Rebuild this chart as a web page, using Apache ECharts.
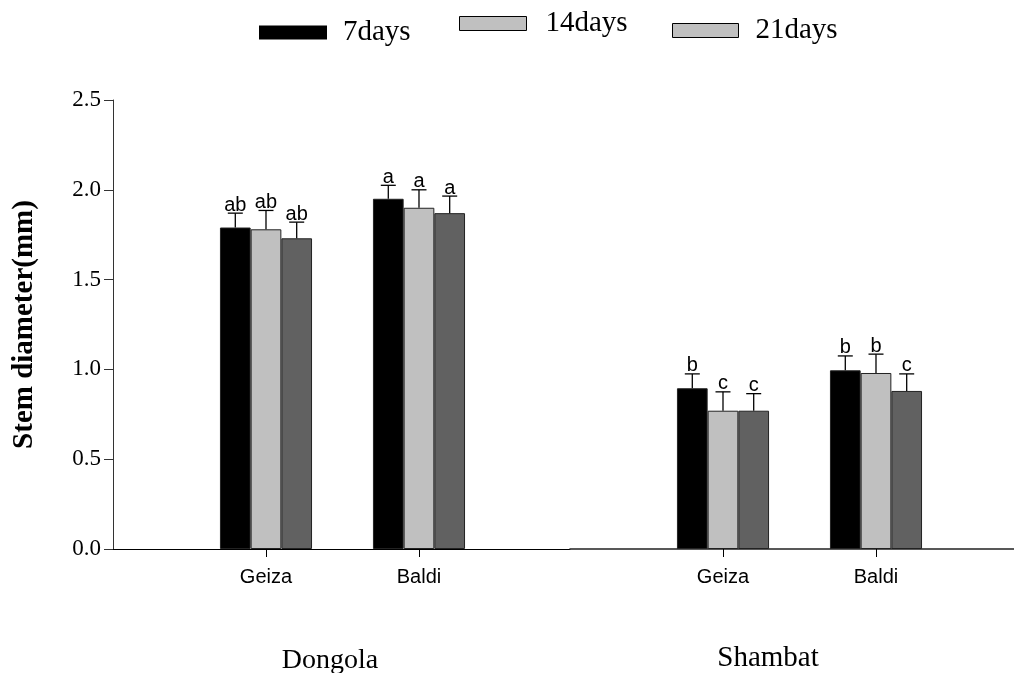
<!DOCTYPE html>
<html>
<head>
<meta charset="utf-8">
<script src="https://cdn.jsdelivr.net/npm/echarts@6/dist/echarts.min.js"></script>
<style>html,body{margin:0;padding:0;background:#fff}#c{width:1014px;height:673px}</style>
</head>
<body>
<div id="c"></div>
<script>
// ---- data ----
const sites = ['Dongola', 'Shambat'];
const cultivars = ['Geiza', 'Baldi'];
const seriesNames = ['7days', '14days', '21days'];
// order: Dongola-Geiza, Dongola-Baldi, Shambat-Geiza, Shambat-Baldi
const days7  = [1.79, 1.95, 0.895, 0.995];
const days14 = [1.78, 1.90, 0.77, 0.98];
const days21 = [1.73, 1.87, 0.77, 0.88];
const err7   = [0.08, 0.075, 0.08, 0.08];
const err14  = [0.105, 0.10, 0.105, 0.105];
const err21  = [0.09, 0.095, 0.095, 0.095];
const letters7  = ['ab', 'a', 'b', 'b'];
const letters14 = ['ab', 'a', 'c', 'b'];
const letters21 = ['ab', 'a', 'c', 'c'];
const yTicks = [0, 0.5, 1.0, 1.5, 2.0, 2.5];

// ---- styling ----
const BAR_W = 30.7;
const colors = ['#000000', '#c0c0c0', '#616161'];
const means = [days7, days14, days21];
const errs = [err7, err14, err21];
const letters = [letters7, letters14, letters21];
const serif = '"Liberation Serif", "Times New Roman", serif';
const sans = '"Liberation Sans", Arial, sans-serif';
// each panel's numeric x axis runs 0 .. X_MAX, cultivars sit at 1 and 2
const X_MAX = [2.987, 2.902];

const series = [];
sites.forEach(function (site, s) {
  seriesNames.forEach(function (nm, k) {
    series.push({
      type: 'bar', name: nm, xAxisIndex: s, yAxisIndex: s,
      barWidth: BAR_W, barGap: '0%',
      itemStyle: { color: colors[k], borderColor: '#222', borderWidth: 1 },
      data: cultivars.map(function (cv, c) { return [c + 1, means[k][s * 2 + c]]; }),
      z: 2
    });
  });
  const eData = [], eLab = [];
  cultivars.forEach(function (cv, c) {
    for (let k = 0; k < 3; k++) {
      eData.push([c + 1, k, means[k][s * 2 + c], errs[k][s * 2 + c]]);
      eLab.push(letters[k][s * 2 + c]);
    }
  });
  series.push({
    type: 'custom', name: 'err' + s, xAxisIndex: s, yAxisIndex: s, z: 5,
    encode: { x: 0, y: 2 }, clip: false,
    data: eData,
    renderItem: function (params, api) {
      const cat = api.value(0), k = api.value(1), v = api.value(2), e = api.value(3);
      const base = api.coord([cat, v]);
      const top = api.coord([cat, v + e]);
      const x = base[0] + (k - 1) * BAR_W;
      return {
        type: 'group', children: [
          { type: 'line', shape: { x1: x, y1: base[1], x2: x, y2: top[1] }, style: { stroke: '#000', lineWidth: 1.3 } },
          { type: 'line', shape: { x1: x - 7.5, y1: top[1], x2: x + 7.5, y2: top[1] }, style: { stroke: '#000', lineWidth: 1.3 } },
          { type: 'text', x: x, y: top[1] + 2, style: { text: eLab[params.dataIndex], font: '20px ' + sans, fill: '#000', align: 'center', verticalAlign: 'bottom' } }
        ]
      };
    }
  });
});

function xAxis(idx) {
  return {
    type: 'value', gridIndex: idx, min: 0, max: X_MAX[idx],
    axisLine: { show: true, onZero: false, lineStyle: { color: idx === 0 ? '#000' : '#222', width: idx === 0 ? 1 : 1.6 } },
    axisTick: { show: true, length: 8, lineStyle: { color: '#000' }, customValues: [1, 2] },
    axisLabel: { show: true, margin: 18, color: '#000', fontFamily: sans, fontSize: 20, customValues: [1, 2],
      formatter: function (v) { return cultivars[Math.round(v) - 1] || ''; } },
    splitLine: { show: false }
  };
}

const option = {
  animation: false,
  backgroundColor: '#fff',
  legend: [
    { data: [{ name: '7days', itemStyle: { color: '#000', borderWidth: 0 } }], left: 259, top: 18, padding: 0, icon: 'rect', itemWidth: 68, itemHeight: 14, textStyle: { fontFamily: serif, fontSize: 29, color: '#000', padding: [0, 0, 0, 11] } },
    { data: [{ name: '14days', itemStyle: { color: '#c0c0c0', borderColor: '#000', borderWidth: 1 } }], left: 459, top: 9, padding: 0, icon: 'rect', itemWidth: 67, itemHeight: 14, textStyle: { fontFamily: serif, fontSize: 29, color: '#000', padding: [0, 0, 0, 14] } },
    { data: [{ name: '21days', itemStyle: { color: '#c0c0c0', borderColor: '#000', borderWidth: 1 } }], left: 672, top: 16, padding: 0, icon: 'rect', itemWidth: 66, itemHeight: 14, textStyle: { fontFamily: serif, fontSize: 29, color: '#000', padding: [0, 0, 0, 12] } }
  ],
  grid: [
    { left: 113, width: 457, top: 100, height: 449 },
    { left: 570, right: 0, top: 100, height: 449 }
  ],
  xAxis: [xAxis(0), xAxis(1)],
  yAxis: [
    {
      type: 'value', gridIndex: 0, min: yTicks[0], max: yTicks[yTicks.length - 1], interval: 0.5,
      name: 'Stem diameter(mm)', nameLocation: 'middle', nameRotate: 90, nameGap: 74,
      nameTextStyle: { fontFamily: serif, fontSize: 29, fontWeight: 'bold', color: '#000' },
      axisLine: { show: true, lineStyle: { color: '#333', width: 1 } },
      axisTick: { show: true, length: 9, lineStyle: { color: '#333' } },
      axisLabel: { margin: 12, color: '#000', fontFamily: serif, fontSize: 23, formatter: function (v) { return v.toFixed(1); } },
      splitLine: { show: false }
    },
    { type: 'value', gridIndex: 1, min: 0, max: 2.5, interval: 0.5, show: false, splitLine: { show: false } }
  ],
  graphic: [
    { type: 'text', x: 330, y: 661, style: { text: sites[0], font: '28px ' + serif, fill: '#000', align: 'center', verticalAlign: 'middle' } },
    { type: 'text', x: 768, y: 658, style: { text: sites[1], font: '29px ' + serif, fill: '#000', align: 'center', verticalAlign: 'middle' } }
  ],
  series: series
};

const chart = echarts.init(document.getElementById('c'), null, { renderer: 'canvas' });
chart.setOption(option);
</script>
</body>
</html>
